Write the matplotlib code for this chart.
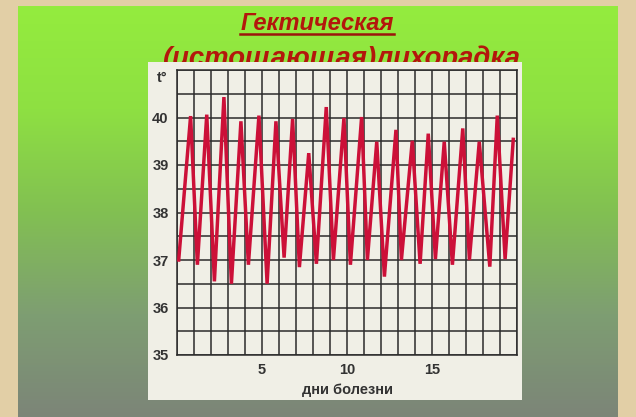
import numpy as np
import matplotlib
matplotlib.use("Agg")
import matplotlib.pyplot as plt
from matplotlib.colors import LinearSegmentedColormap
from matplotlib.lines import Line2D

# temperature curve: alternating evening peaks and morning drops
days = [0.1, 0.8, 1.2, 1.75, 2.2, 2.76, 3.2, 3.76, 4.2, 4.82, 5.3, 5.82,
        6.3, 6.8, 7.2, 7.75, 8.2, 8.78, 9.2, 9.82, 10.2, 10.86, 11.2, 11.75,
        12.2, 12.88, 13.2, 13.84, 14.3, 14.78, 15.2, 15.72, 16.2, 16.81,
        17.2, 17.78, 18.4, 18.84, 19.3, 19.78]
temps = [37.0, 40.03, 36.9, 40.06, 36.55, 40.43, 36.5, 39.92, 36.9, 40.04,
         36.5, 39.92, 37.05, 39.97, 36.85, 39.25, 36.92, 40.22, 37.0, 39.99,
         36.9, 40.01, 37.0, 39.49, 36.65, 39.74, 37.0, 39.51, 36.92, 39.66,
         37.02, 39.49, 36.9, 39.77, 37.0, 39.49, 36.86, 40.04, 37.02, 39.54]

y_ticks = [35, 36, 37, 38, 39, 40]
x_ticks = [5, 10, 15]
title_top = "Гектическая"
title_bottom = "(истощающая)лихорадка"
x_label = "дни болезни"

W, H = 636, 417
fig = plt.figure(figsize=(W / 100, H / 100), dpi=100)
fig.patch.set_facecolor("#e2cfa6")

# green slide background with vertical gradient
bg = fig.add_axes([18 / W, 0, 600 / W, 411 / H], zorder=0)
cmap = LinearSegmentedColormap.from_list(
    "slide", ["#94ec3e", "#8ee042", "#82c052", "#7e9e72", "#7c8578"])
bg.imshow(np.linspace(0, 1, 256)[:, None], aspect="auto", cmap=cmap,
          extent=[0, 1, 0, 1])
bg.set_axis_off()

txt_kw = dict(family="Liberation Sans", weight="bold", style="italic",
              color="#b3170c", ha="center", va="baseline")
t1 = fig.text(317 / W, 1 - 30 / H, title_top, zorder=0.5, fontsize=17,
              **txt_kw)
# second line sits partly behind the chart card
t2 = fig.text(342 / W, 1 - 66 / H, title_bottom, zorder=0.5, fontsize=19.8,
              **txt_kw)

# white card that holds the chart
card = fig.add_axes([148 / W, 17 / H, 374 / W, 338 / H], zorder=1)
card.set_facecolor("#f0efe6")
card.set_xticks([])
card.set_yticks([])
for s in card.spines.values():
    s.set_visible(False)

ax = fig.add_axes([177 / W, 62 / H, 340 / W, 285 / H], zorder=2)
ax.set_facecolor("#f0efe6")
ax.set_xlim(0, 20)
ax.set_ylim(35, 41)
grid_c = "#2b2b2b"
for x in range(0, 21):
    ax.axvline(x, color=grid_c, lw=1.1, zorder=1)
for y in np.arange(35, 41.01, 0.5):
    ax.axhline(y, color=grid_c, lw=1.1, zorder=1)
for s in ax.spines.values():
    s.set_color(grid_c)
    s.set_linewidth(1.1)

ax.plot(days, temps, color="#cc1038", lw=2.5, solid_joinstyle="miter",
        zorder=3)

lab_kw = dict(family="Liberation Sans", weight="bold", fontsize=10.5,
              color="#333333")
ax.set_yticks(y_ticks)
ax.set_yticklabels([str(v) for v in y_ticks], **lab_kw)
ax.set_xticks(x_ticks)
ax.set_xticklabels([str(v) for v in x_ticks], **lab_kw)
ax.tick_params(length=0, pad=6)
ax.text(-0.55, 40.83, "t°", ha="right", va="center", **lab_kw)
ax.set_xlabel(x_label, labelpad=4, **lab_kw)

# underline the first title line
fig.canvas.draw()
bb = t1.get_window_extent()
uy = 1 - 34 / H
fig.add_artist(Line2D([bb.x0 / W, bb.x1 / W], [uy, uy], color="#9c140c",
                      lw=1.8, zorder=0.5))

fig.savefig("out.png", dpi=100, facecolor=fig.get_facecolor())
